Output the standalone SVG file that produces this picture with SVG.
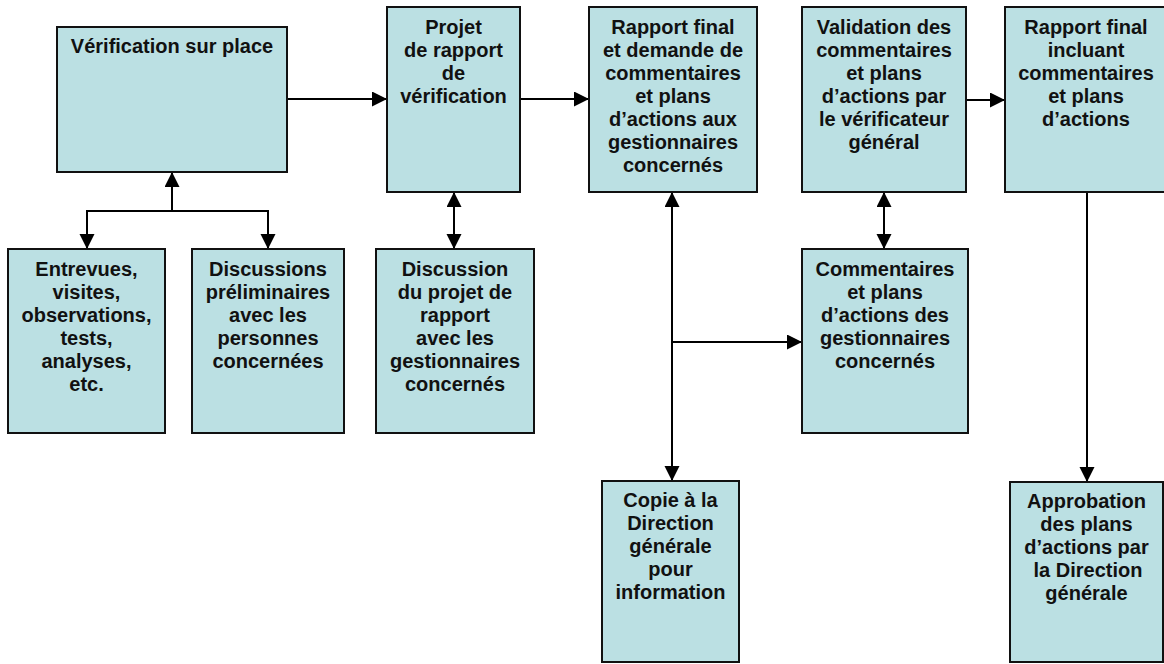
<svg xmlns="http://www.w3.org/2000/svg" width="1164" height="664" viewBox="0 0 1164 664">
<style>
.box{fill:#BBE0E3;stroke:#111;stroke-width:2}
.t{font-family:"Liberation Sans",Arial,sans-serif;font-weight:bold;font-size:20px;fill:#111;text-anchor:middle}
.c{fill:none;stroke:#000;stroke-width:2}
</style>
<defs>
<marker id="ah" markerUnits="userSpaceOnUse" markerWidth="16" markerHeight="16" refX="15" refY="7.5" orient="auto-start-reverse">
<path d="M0,0 L15,7.5 L0,15 Z" fill="#000"/>
</marker>
</defs>
<rect width="1164" height="664" fill="#fff"/>
<g id="connectors">
<path class="c" d="M287,99 H387" marker-end="url(#ah)"/>
<path class="c" d="M520,99 H589" marker-end="url(#ah)"/>
<path class="c" d="M966,100 H1005" marker-end="url(#ah)"/>
<path class="c" d="M172,211 V172" marker-end="url(#ah)"/>
<path class="c" d="M87,249 V211 H268 V249" marker-start="url(#ah)" marker-end="url(#ah)"/>
<path class="c" d="M454,192 V249" marker-start="url(#ah)" marker-end="url(#ah)"/>
<path class="c" d="M884,192 V249" marker-start="url(#ah)" marker-end="url(#ah)"/>
<path class="c" d="M672,192 V481" marker-start="url(#ah)" marker-end="url(#ah)"/>
<path class="c" d="M672,342 H802" marker-end="url(#ah)"/>
<path class="c" d="M1087,192 V482" marker-end="url(#ah)"/>
</g>
<g id="n1"><rect class="box" x="57" y="27" width="230" height="145"/>
<text class="t" x="172" y="53">Vérification sur place</text></g>
<g id="n2"><rect class="box" x="387" y="7" width="133" height="185"/>
<text class="t"><tspan x="453.5" y="34">Projet</tspan><tspan x="453.5" y="57">de rapport</tspan><tspan x="453.5" y="80">de</tspan><tspan x="453.5" y="103">vérification</tspan></text></g>
<g id="n3"><rect class="box" x="589" y="7" width="168" height="185"/>
<text class="t"><tspan x="673" y="34">Rapport final</tspan><tspan x="673" y="57">et demande de</tspan><tspan x="673" y="80">commentaires</tspan><tspan x="673" y="103">et plans</tspan><tspan x="673" y="126">d’actions aux</tspan><tspan x="673" y="149">gestionnaires</tspan><tspan x="673" y="172">concernés</tspan></text></g>
<g id="n4"><rect class="box" x="802" y="7" width="164" height="185"/>
<text class="t"><tspan x="884" y="34">Validation des</tspan><tspan x="884" y="57">commentaires</tspan><tspan x="884" y="80">et plans</tspan><tspan x="884" y="103">d’actions par</tspan><tspan x="884" y="126">le vérificateur</tspan><tspan x="884" y="149">général</tspan></text></g>
<g id="n5"><rect class="box" x="1005" y="7" width="163" height="185"/>
<text class="t"><tspan x="1086" y="34">Rapport final</tspan><tspan x="1086" y="57">incluant</tspan><tspan x="1086" y="80">commentaires</tspan><tspan x="1086" y="103">et plans</tspan><tspan x="1086" y="126">d’actions</tspan></text></g>
<g id="n6"><rect class="box" x="8" y="249" width="157" height="184"/>
<text class="t"><tspan x="86.5" y="276">Entrevues,</tspan><tspan x="86.5" y="299">visites,</tspan><tspan x="86.5" y="322">observations,</tspan><tspan x="86.5" y="345">tests,</tspan><tspan x="86.5" y="368">analyses,</tspan><tspan x="86.5" y="391">etc.</tspan></text></g>
<g id="n7"><rect class="box" x="192" y="249" width="152" height="184"/>
<text class="t"><tspan x="268" y="276">Discussions</tspan><tspan x="268" y="299">préliminaires</tspan><tspan x="268" y="322">avec les</tspan><tspan x="268" y="345">personnes</tspan><tspan x="268" y="368">concernées</tspan></text></g>
<g id="n8"><rect class="box" x="376" y="249" width="158" height="184"/>
<text class="t"><tspan x="455" y="276">Discussion</tspan><tspan x="455" y="299">du projet de</tspan><tspan x="455" y="322">rapport</tspan><tspan x="455" y="345">avec les</tspan><tspan x="455" y="368">gestionnaires</tspan><tspan x="455" y="391">concernés</tspan></text></g>
<g id="n9"><rect class="box" x="802" y="249" width="166" height="184"/>
<text class="t"><tspan x="885" y="276">Commentaires</tspan><tspan x="885" y="299">et plans</tspan><tspan x="885" y="322">d’actions des</tspan><tspan x="885" y="345">gestionnaires</tspan><tspan x="885" y="368">concernés</tspan></text></g>
<g id="n10"><rect class="box" x="602" y="481" width="137" height="181"/>
<text class="t"><tspan x="670.5" y="507">Copie à la</tspan><tspan x="670.5" y="530">Direction</tspan><tspan x="670.5" y="553">générale</tspan><tspan x="670.5" y="576">pour</tspan><tspan x="670.5" y="599">information</tspan></text></g>
<g id="n11"><rect class="box" x="1010" y="482" width="153" height="180"/>
<text class="t"><tspan x="1086.5" y="508">Approbation</tspan><tspan x="1086.5" y="531">des plans</tspan><tspan x="1086.5" y="554">d’actions par</tspan><tspan x="1088" y="577">la Direction</tspan><tspan x="1086.5" y="600">générale</tspan></text></g>
</svg>
